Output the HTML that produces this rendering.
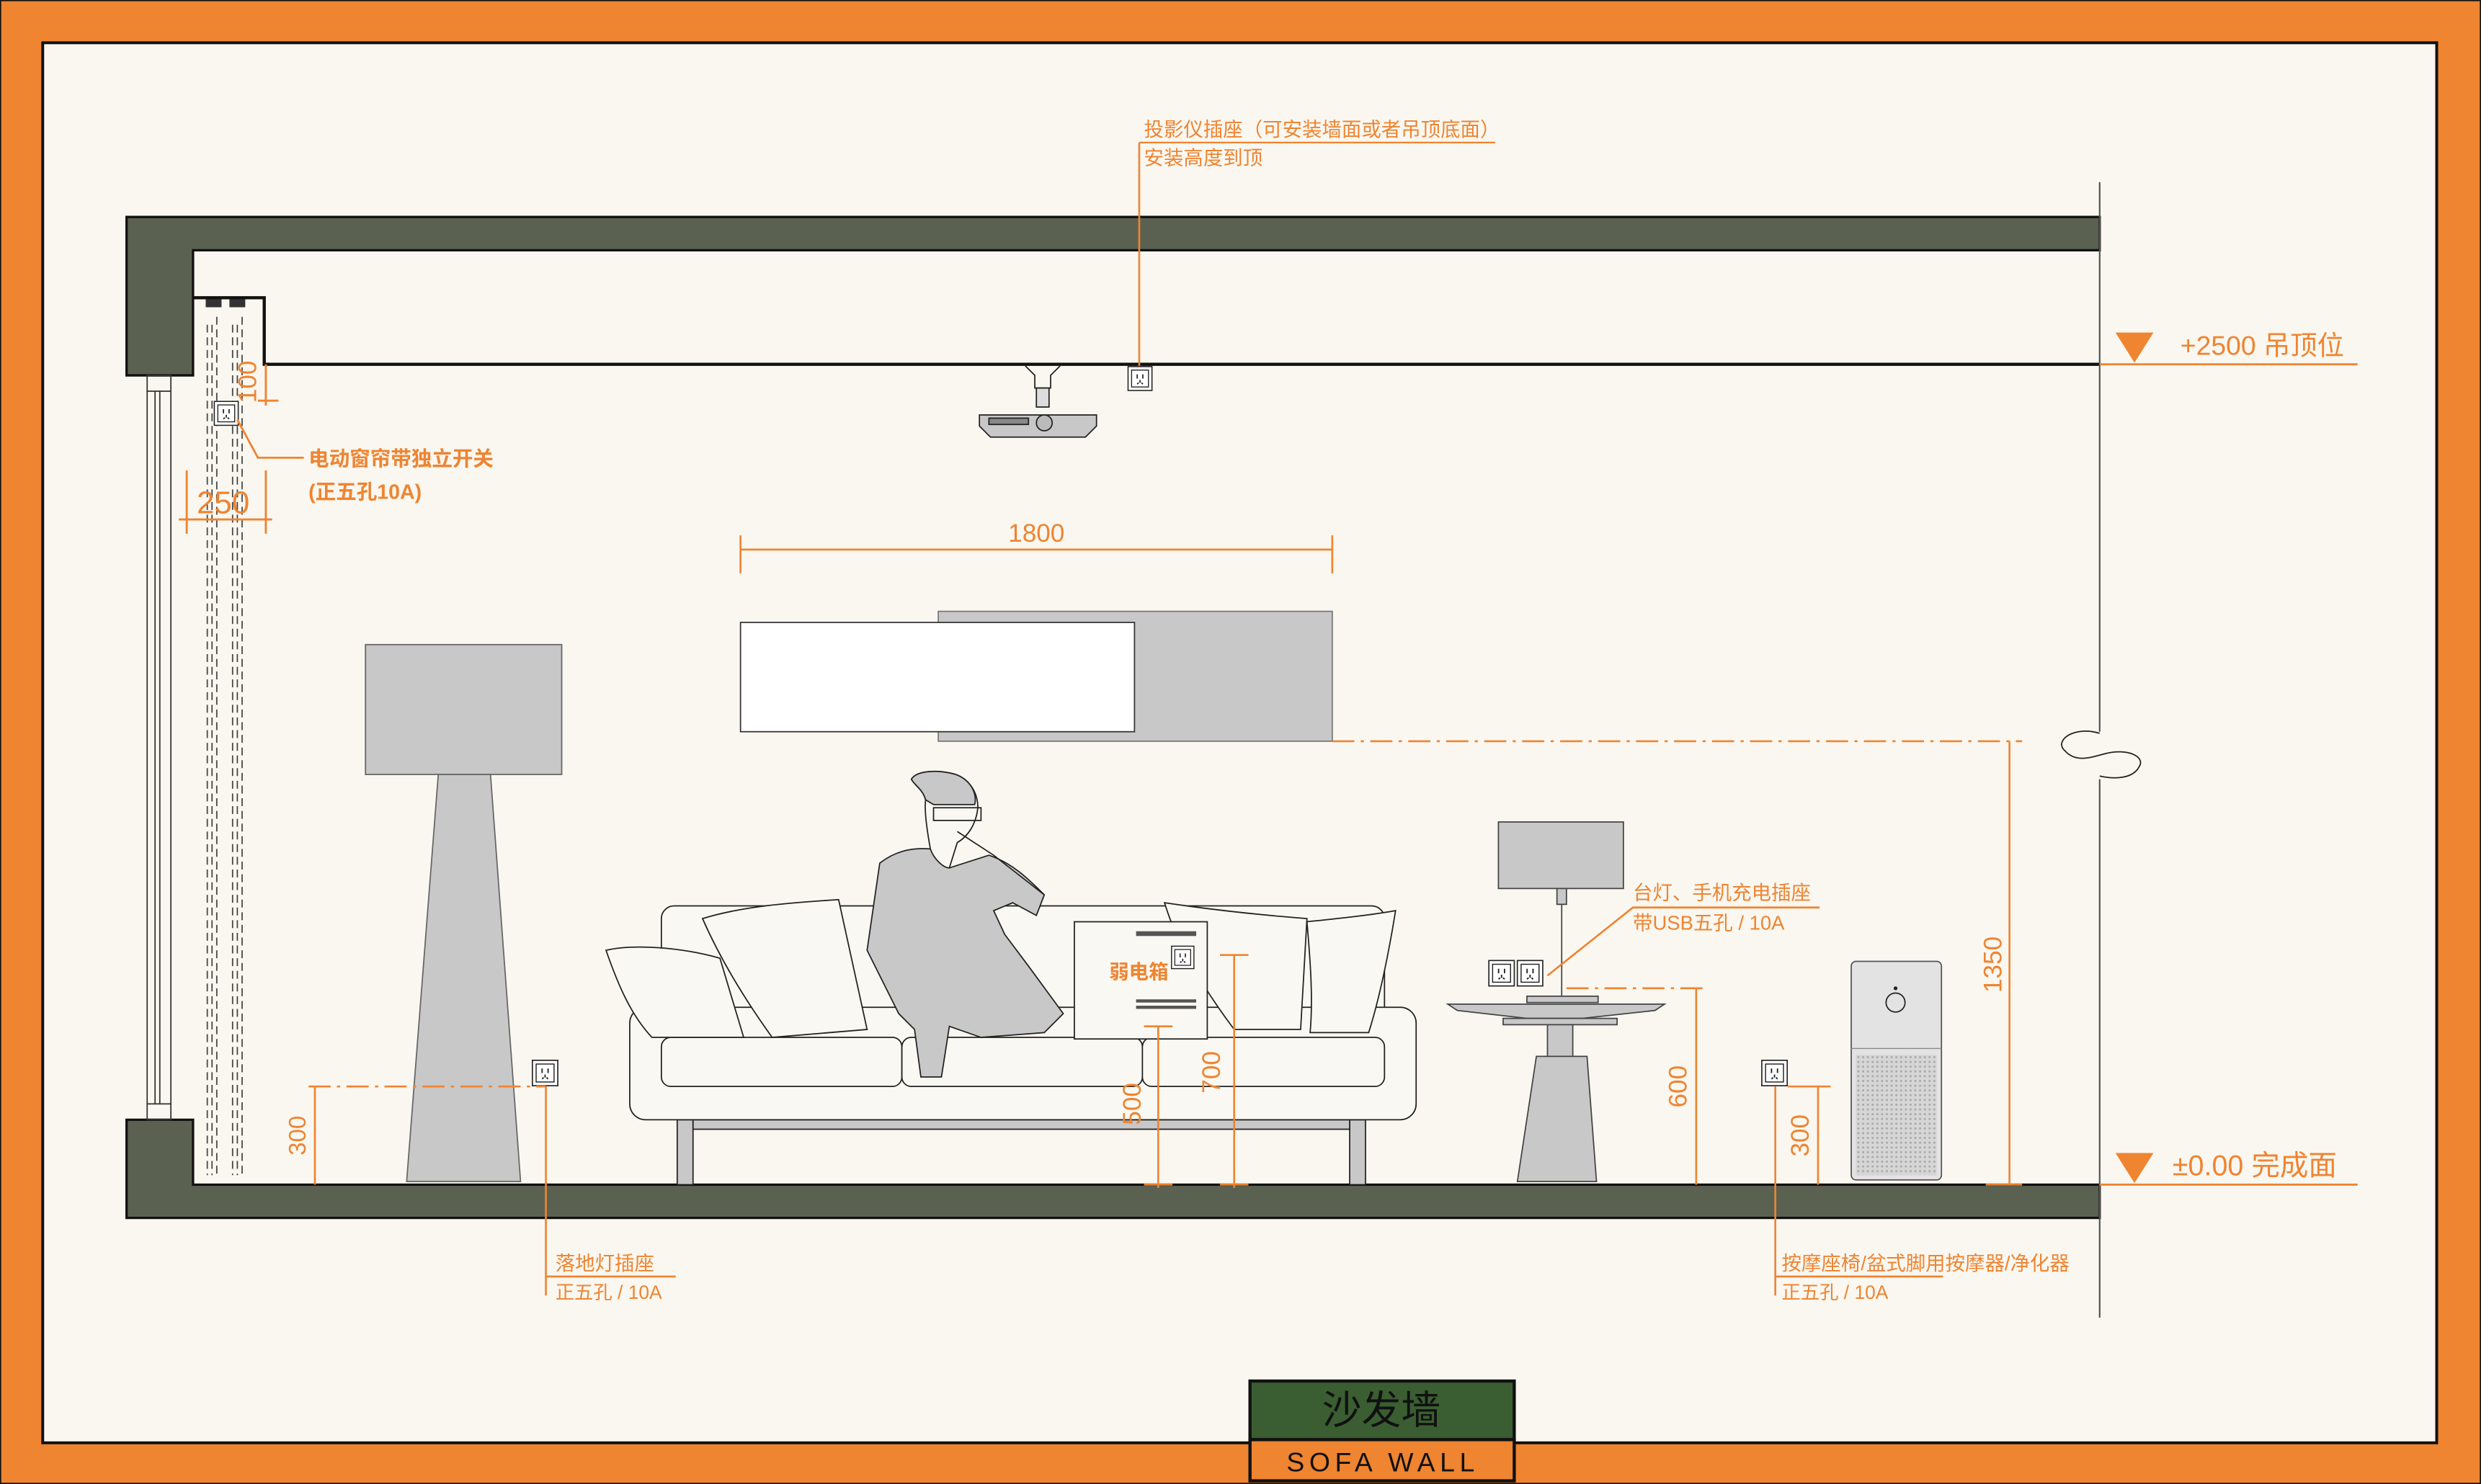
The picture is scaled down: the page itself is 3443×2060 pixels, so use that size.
<!DOCTYPE html>
<html><head><meta charset="utf-8"><style>
html,body{margin:0;padding:0;background:#ef8431;}
svg{display:block;}
text{font-family:"Liberation Sans","Noto Sans CJK SC",sans-serif;}
</style></head><body>
<svg width="3443" height="2060" viewBox="0 0 1568 937" preserveAspectRatio="none" xmlns="http://www.w3.org/2000/svg">
<defs>
<symbol id="sock" viewBox="0 0 18 18"><rect x="0.5" y="0.5" width="17" height="17" fill="#fff" stroke="#222" stroke-width="0.8"/><rect x="3" y="3" width="12" height="12" fill="none" stroke="#222" stroke-width="0.7"/><path d="M7 6v3M11 6v3M9 10v2M7 13l1-1M11 13l-1-1" stroke="#222" stroke-width="0.9"/></symbol>
<pattern id="mesh" width="3" height="3" patternUnits="userSpaceOnUse"><rect width="3" height="3" fill="#d6d6d6"/><circle cx="1.5" cy="1.5" r="0.7" fill="#aaa"/></pattern>
</defs>
<rect x="0" y="0" width="1568" height="937" fill="#ef8431" stroke="#111" stroke-width="1.5"/>
<rect x="27" y="27" width="1513" height="884" fill="#f9f7f0" stroke="#111" stroke-width="1.8"/>

<!-- structure -->
<path d="M80 137H1327V158H122V237H80Z" fill="#5b6150" stroke="#111" stroke-width="1.5"/>
<path d="M80 707H122V748H1327V769H80Z" fill="#5b6150" stroke="#111" stroke-width="1.5"/>
<path d="M122 188H167V230H1327" fill="none" stroke="#111" stroke-width="2"/>
<line x1="1327" y1="115" x2="1327" y2="462" stroke="#555" stroke-width="1"/>
<line x1="1327" y1="492" x2="1327" y2="832" stroke="#555" stroke-width="1"/>
<path d="M1327 463C1310 458 1298 468 1305 474C1312 482 1322 478 1330 476C1345 472 1356 478 1352 484C1348 492 1336 492 1327 490" fill="none" stroke="#222" stroke-width="0.8"/>

<!-- window -->
<g stroke="#333" stroke-width="0.8" fill="none">
<rect x="93" y="237" width="15" height="10"/><rect x="93" y="697" width="15" height="10"/>
<line x1="93" y1="247" x2="93" y2="697"/><line x1="108" y1="247" x2="108" y2="697"/>
<line x1="98" y1="247" x2="98" y2="697"/><line x1="101" y1="247" x2="101" y2="697"/>
</g>
<!-- curtains -->
<g stroke="#444" stroke-width="0.8" fill="none" stroke-dasharray="5,3">
<path d="M131 205V742M134 205V742M137 200V742M147 205V742M150 205V742M153 200V742"/>
</g>
<g fill="#333"><rect x="130" y="189" width="10" height="5"/><rect x="145" y="189" width="10" height="5"/></g>
<use href="#sock" x="134" y="253" width="18" height="16"/>

<!-- curtain dims -->
<g stroke="#ef8431" stroke-width="1.3" fill="none">
<path d="M168 230V256M163 253H176"/>
<path d="M113 328H172M118 297V337M168 297V337"/>
<path d="M150 265L163 289H192"/>
</g>
<text x="162" y="241" fill="#ef8431" font-size="16" transform="rotate(-90 162 241)" text-anchor="middle">100</text>
<text x="141" y="324" fill="#ef8431" font-size="20" text-anchor="middle">250</text>
<text x="195" y="294" fill="#ef8431" font-size="13" font-weight="bold">电动窗帘带独立开关</text>
<text x="195" y="315" fill="#ef8431" font-size="13" font-weight="bold">(正五孔10A)</text>

<!-- projector -->
<line x1="720" y1="90" x2="720" y2="232" stroke="#ef8431" stroke-width="1.2"/>
<line x1="720" y1="90" x2="945" y2="90" stroke="#ef8431" stroke-width="1"/>
<text x="723" y="86" fill="#ef8431" font-size="12.5">投影仪插座（可安装墙面或者吊顶底面）</text>
<text x="723" y="104" fill="#ef8431" font-size="12.5">安装高度到顶</text>
<use href="#sock" x="712" y="231" width="17" height="16"/>
<g stroke="#222" stroke-width="0.8">
<path d="M648 231L654 237V245H664V237L670 231" fill="none"/>
<rect x="655" y="245" width="8" height="12" fill="#ddd"/>
<path d="M619 262H693V269L686 276H626L619 269Z" fill="#c8c8c8"/>
<circle cx="660" cy="267" r="5" fill="#bbb"/>
<rect x="625" y="264" width="25" height="4" fill="#888"/>
</g>

<!-- TV -->
<rect x="593" y="386" width="249" height="82" fill="#c8c8c8" stroke="#777" stroke-width="0.8"/>
<rect x="468" y="393" width="249" height="69" fill="#fff" stroke="#333" stroke-width="0.8"/>
<g stroke="#ef8431" stroke-width="1.2"><path d="M468 347H842M468 338V362M842 338V362"/></g>
<text x="655" y="342" fill="#ef8431" font-size="16" text-anchor="middle">1800</text>

<!-- 1350 -->
<g stroke="#ef8431" stroke-width="1.2" fill="none">
<line x1="842" y1="468" x2="1278" y2="468" stroke-dasharray="14,4,2,4"/>
<line x1="1270" y1="468" x2="1270" y2="748"/>
<line x1="1255" y1="748" x2="1278" y2="748"/>
</g>
<text x="1265" y="609" fill="#ef8431" font-size="16" transform="rotate(-90 1265 609)" text-anchor="middle">1350</text>

<!-- levels -->
<path d="M1337 210H1361L1349 229Z" fill="#ef8431"/>
<line x1="1327" y1="230" x2="1490" y2="230" stroke="#ef8431" stroke-width="1.3"/>
<text x="1378" y="224" fill="#ef8431" font-size="17">+2500 吊顶位</text>
<path d="M1337 728H1361L1349 747Z" fill="#ef8431"/>
<line x1="1327" y1="748" x2="1490" y2="748" stroke="#ef8431" stroke-width="1.3"/>
<text x="1373" y="742" fill="#ef8431" font-size="18">±0.00 完成面</text>

<!-- floor lamp -->
<rect x="231" y="407" width="124" height="82" fill="#c8c8c8" stroke="#666" stroke-width="0.8"/>
<path d="M277 489H310L329 746H257Z" fill="#c8c8c8" stroke="#666" stroke-width="0.8"/>
<use href="#sock" x="336" y="669" width="17" height="17"/>
<g stroke="#ef8431" stroke-width="1.2" fill="none">
<line x1="195" y1="686" x2="345" y2="686" stroke-dasharray="14,4,2,4"/>
<line x1="199" y1="686" x2="199" y2="748"/>
<path d="M345 686V818M345 806H427"/>
</g>
<text x="193" y="717" fill="#ef8431" font-size="15" transform="rotate(-90 193 717)" text-anchor="middle">300</text>
<text x="351" y="802" fill="#ef8431" font-size="12.5">落地灯插座</text>
<text x="351" y="820" fill="#ef8431" font-size="12">正五孔 / 10A</text>

<!-- sofa -->
<g stroke="#222" stroke-width="0.8">
<rect x="428" y="707" width="10" height="41" fill="#c8c8c8"/>
<rect x="853" y="707" width="10" height="41" fill="#c8c8c8"/>
<rect x="438" y="707" width="415" height="6" fill="#c8c8c8"/>
<rect x="418" y="572" width="457" height="90" rx="8" fill="#faf8f2"/>
<rect x="398" y="636" width="497" height="71" rx="10" fill="#faf8f2"/>
<rect x="418" y="655" width="152" height="31" rx="6" fill="#faf8f2"/>
<rect x="570" y="655" width="152" height="31" rx="6" fill="#faf8f2"/>
<rect x="722" y="655" width="153" height="31" rx="6" fill="#faf8f2"/>
<path d="M383 600C400 596 430 598 455 605L470 655H412C398 640 390 620 383 600Z" fill="#faf8f2"/>
<path d="M444 580C470 572 500 570 530 568L548 650L488 655C470 630 455 605 444 580Z" fill="#faf8f2"/>
<path d="M736 570C770 575 800 578 826 580L822 650H780C765 630 745 600 736 570Z" fill="#faf8f2"/>
<path d="M826 582C845 580 865 578 882 575C878 600 872 630 865 652H828C830 630 828 605 826 582Z" fill="#faf8f2"/>
<!-- person -->
<path d="M556 545C565 538 575 535 588 536L600 548L625 540C640 545 650 555 660 565L655 578L640 570L628 575L635 590L650 610L672 640L660 652L620 655L600 648L595 680H582L578 650L568 640L548 600Z" fill="#c8c8c8"/>
<path d="M588 536C586 525 584 512 585 505C583 498 578 496 576 492C579 487 590 486 600 488C612 490 618 500 618 510C617 520 612 528 605 532L600 548C596 548 590 542 588 536Z" fill="#faf8f2"/>
<path d="M585 505C583 498 578 496 576 492C579 487 590 486 600 488C612 490 618 500 616 508L590 508Z" fill="#c8c8c8"/>
<path d="M590 510H620V518H590Z" fill="none"/>
<path d="M605 525L628 540L660 565" fill="none"/>
</g>
<!-- weak box -->
<rect x="679" y="582" width="84" height="74" fill="#faf8f2" stroke="#222" stroke-width="0.8"/>
<g fill="#555"><rect x="718" y="588" width="38" height="3"/><rect x="718" y="631" width="38" height="2"/><rect x="718" y="635" width="38" height="2"/></g>
<use href="#sock" x="740" y="596" width="15" height="17"/>
<text x="701" y="618" fill="#ef8431" font-size="12.5" font-weight="bold">弱电箱</text>
<g stroke="#ef8431" stroke-width="1.2" fill="none">
<path d="M732 648V750M723 648H741M723 748H741"/>
<path d="M780 603V750M771 603H789M771 748H789"/>
</g>
<text x="721" y="697" fill="#ef8431" font-size="16" transform="rotate(-90 721 697)" text-anchor="middle">500</text>
<text x="771" y="677" fill="#ef8431" font-size="16" transform="rotate(-90 771 677)" text-anchor="middle">700</text>

<!-- side table -->
<g stroke="#444" stroke-width="0.8">
<rect x="947" y="519" width="79" height="42" fill="#c8c8c8"/>
<rect x="984" y="561" width="6" height="10" fill="#c8c8c8"/>
<line x1="987" y1="571" x2="987" y2="630"/>
<rect x="965" y="629" width="45" height="4" fill="#c8c8c8"/>
<path d="M915 634H1052L1046 638L1000 643H965L921 638Z" fill="#c8c8c8"/>
<rect x="950" y="643" width="72" height="4" fill="#c8c8c8"/>
<rect x="978" y="647" width="16" height="20" fill="#c8c8c8"/>
<path d="M971 667H1003L1009 746H959Z" fill="#c8c8c8"/>
</g>
<use href="#sock" x="940" y="606" width="18" height="17"/>
<use href="#sock" x="958" y="606" width="18" height="17"/>
<g stroke="#ef8431" stroke-width="1.2" fill="none">
<path d="M978 616L1032 573H1150"/>
<line x1="990" y1="624" x2="1080" y2="624" stroke-dasharray="14,4,2,4"/>
<line x1="1072" y1="624" x2="1072" y2="748"/>
</g>
<text x="1032" y="568" fill="#ef8431" font-size="12.5">台灯、手机充电插座</text>
<text x="1032" y="587" fill="#ef8431" font-size="12.5">带USB五孔 / 10A</text>
<text x="1066" y="686" fill="#ef8431" font-size="16" transform="rotate(-90 1066 686)" text-anchor="middle">600</text>

<!-- right socket + purifier -->
<use href="#sock" x="1113" y="669" width="17" height="17"/>
<g stroke="#ef8431" stroke-width="1.2" fill="none">
<path d="M1130 686H1157M1149 686V748"/>
<path d="M1122 686V818M1122 806H1228"/>
</g>
<text x="1143" y="717" fill="#ef8431" font-size="16" transform="rotate(-90 1143 717)" text-anchor="middle">300</text>
<text x="1126" y="802" fill="#ef8431" font-size="12.5">按摩座椅/盆式脚用按摩器/净化器</text>
<text x="1126" y="820" fill="#ef8431" font-size="12">正五孔 / 10A</text>
<rect x="1170" y="607" width="57" height="138" rx="3" fill="#e3e3e3" stroke="#555" stroke-width="0.8"/>
<line x1="1170" y1="662" x2="1227" y2="662" stroke="#888" stroke-width="0.6"/>
<rect x="1173" y="666" width="51" height="76" fill="url(#mesh)"/>
<circle cx="1198" cy="633" r="6" fill="none" stroke="#222" stroke-width="0.8"/>
<circle cx="1198" cy="624" r="1.2" fill="#222"/>

<!-- title -->
<rect x="790" y="872" width="167" height="37" fill="#3a5e31" stroke="#111" stroke-width="2"/>
<rect x="790" y="909" width="167" height="26" fill="#ef8431" stroke="#111" stroke-width="2"/>
<text x="873" y="899" fill="#111" font-size="25" text-anchor="middle" font-family="'Noto Sans CJK SC',sans-serif">沙发墙</text>
<text x="874" y="929" fill="#111" font-size="17" text-anchor="middle" letter-spacing="3">SOFA WALL</text>
</svg>
</body></html>
